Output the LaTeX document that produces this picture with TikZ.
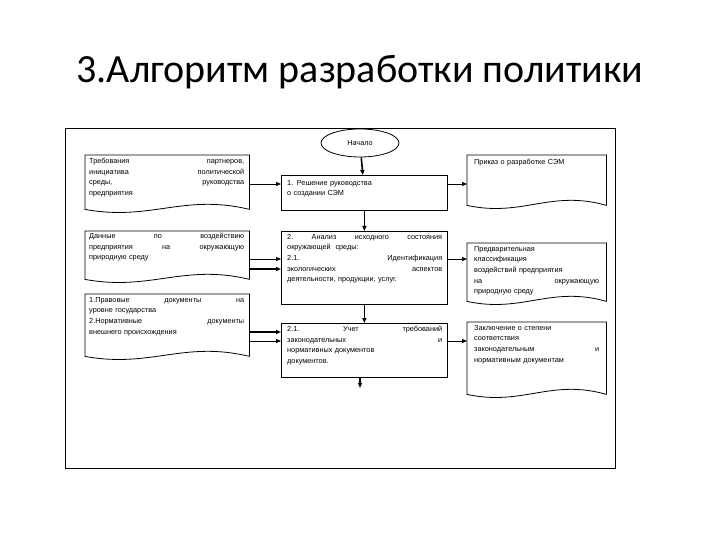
\documentclass[tikz,border=0pt]{standalone}
\usepackage{fontspec}
\setmainfont{Liberation Sans}
\newfontfamily\titlefont{Carlito}
\usetikzlibrary{shapes.geometric,calc,arrows.meta}
\tikzset{
  box/.style={draw, line width=0.8pt, minimum width=#1, minimum height=10pt, anchor=north west, inner sep=0pt},
  outl/.style={draw=none, anchor=north west, inner sep=0pt},
  txt/.style={anchor=north west, inner sep=0pt, text width=#1, align=left, font=\fontsize{7.3}{10.6}\selectfont},
  arr/.style={-{Triangle[length=5pt,width=4pt]}, line width=0.7pt},
  tarr/.style={-{Triangle[length=5pt,width=4pt]}, line width=1.6pt},
}
\newcommand\docout[1]{\draw[line width=0.8pt] (#1.south east) -- (#1.north east) -- (#1.north west) -- (#1.south west)
  .. controls ($(#1.south west)!0.4!(#1.south east)+(0,12)$) and ($(#1.south west)!0.6!(#1.south east)+(0,-16)$) .. (#1.south east);}
\begin{document}
\begin{tikzpicture}[x=1pt,y=-1pt]
\useasboundingbox (0,0) rectangle (720,540);
\node[font=\titlefont\fontsize{40}{46}\selectfont] (title) at (360,72) {3.Алгоритм разработки политики};
\node[draw, line width=0.8pt, anchor=north west, minimum width=550, minimum height=340, inner sep=0pt] (frame) at (65,128) {};
\node[draw, ellipse, line width=0.8pt, minimum width=78, minimum height=28, inner sep=0pt, font=\fontsize{7.3}{9}\selectfont] (start) at (360,143) {Начало};
% central boxes
\node[box=166, minimum height=35] (b1) at (281,175) {};
\node[txt=155] (t1) at (287,180) {1. Решение руководства\\о создании СЭМ};
\node[box=166, minimum height=73] (b2) at (281,231) {};
\node[txt=155] (t2) at (287,234) {2.\hfill Анализ\hfill исходного\hfill состояния\\окружающей\ \ среды:\\2.1.\hfill Идентификация\\экологических\hfill аспектов\\деятельности, продукции, услуг.};
\node[box=166, minimum height=54] (b3) at (281,323) {};
\node[txt=155] (t3) at (287,326) {2.1.\hfill Учет\hfill требований\\законодательных\hfill и\\нормативных документов\\документов.};
\coordinate (end) at (360,388);
% left docs
\node[outl, minimum width=164, minimum height=54] (d1) at (85,155) {}; \docout{d1}
\node[txt=155] (dt1) at (89,158) {Требования\hfill партнеров,\\инициатива\hfill политической\\среды,\hfill руководства\\предприятия};
\node[outl, minimum width=164, minimum height=48] (d2) at (85,231) {}; \docout{d2}
\node[txt=155] (dt2) at (89,233) {Данные\hfill по\hfill воздействию\\предприятия\hfill на\hfill окружающую\\природную среду};
\node[outl, minimum width=164, minimum height=62] (d3) at (85,294) {}; \docout{d3}
\node[txt=155] (dt3) at (89,297) {1.Правовые\hfill документы\hfill на\\уровне государства\\2.Нормативные\hfill документы\\внешнего происхождения};
% right docs
\node[outl, minimum width=139, minimum height=50] (r1) at (467,155) {}; \docout{r1}
\node[txt=128] (rt1) at (474,159) {Приказ о разработке СЭМ};
\node[outl, minimum width=139, minimum height=58] (r2) at (467,243) {}; \docout{r2}
\node[txt=125] (rt2) at (474,246) {Предварительная\\классификация\\воздействий предприятия\\на\hfill окружающую\\природную среду};
\node[outl, minimum width=139, minimum height=72] (r3) at (467,322) {}; \docout{r3}
\node[txt=125] (rt3) at (474,325) {Заключение о степени\\соответствия\\законодательным\hfill и\\нормативным документам};
% levels
\coordinate (ya) at (0,184);
\coordinate (yb) at (0,259);
\coordinate (yc) at (0,269);
\coordinate (yd) at (0,332);
\coordinate (ye) at (0,341);
% connectors
\draw[tarr] (start) -- (b1);
\draw[tarr] (b1) -- (b2);
\draw[tarr] (b2) -- (b3);
\draw[tarr] (b3.south -| end) -- (end);
\draw[arr] (d1.east |- ya) -- (b1.west |- ya);
\draw[arr] (b1.east |- ya) -- (r1.west |- ya);
\draw[arr] (d2.east |- yb) -- (b2.west |- yb);
\draw[tarr] (d2.east |- yc) -- (b2.west |- yc);
\draw[arr] (b2.east |- yb) -- (r2.west |- yb);
\draw[tarr] (d3.east |- yd) -- (b3.west |- yd);
\draw[arr] (d3.east |- ye) -- (b3.west |- ye);
\draw[arr] (b3.east |- ye) -- (r3.west |- ye);
\end{tikzpicture}
\end{document}
